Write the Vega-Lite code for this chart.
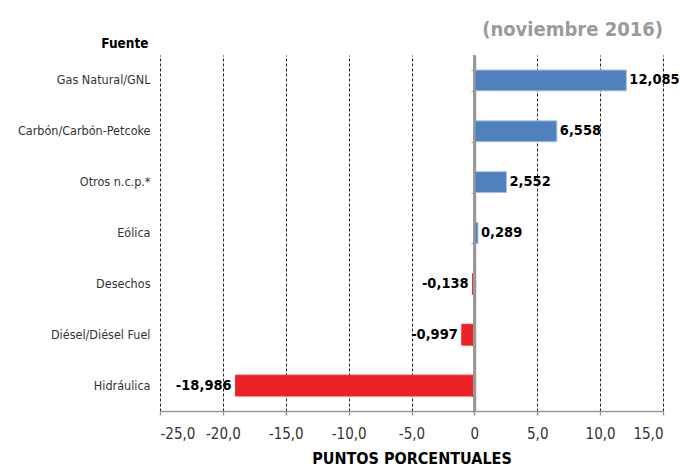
{
  "$schema": "https://vega.github.io/schema/vega-lite/v6.json",
  "width": 503,
  "height": 356,
  "autosize": "none",
  "padding": {"left": 160, "top": 55, "right": 17, "bottom": 61},
  "config": {
    "locale": {"number": {"decimal": ",", "thousands": ".", "grouping": [3], "currency": ["", ""], "minus": "-"}},
    "font": "DejaVu Sans Condensed",
    "view": {"stroke": null}
  },
  "title": {"text": "(noviembre 2016)", "anchor": "end", "frame": "group", "offset": -4, "fontSize": 20, "fontWeight": "bold", "color": "#9A9A9A"},
  "data": {
    "values": [
      {"fuente": "Gas Natural/GNL", "valor": 12.085},
      {"fuente": "Carbón/Carbón-Petcoke", "valor": 6.558},
      {"fuente": "Otros n.c.p.*", "valor": 2.552},
      {"fuente": "Eólica", "valor": 0.289},
      {"fuente": "Desechos", "valor": -0.138},
      {"fuente": "Diésel/Diésel Fuel", "valor": -0.997},
      {"fuente": "Hidráulica", "valor": -18.986}
    ]
  },
  "encoding": {
    "x": {
      "field": "valor",
      "type": "quantitative",
      "scale": {"domain": [-25, 15], "nice": false},
      "axis": {
        "values": [-25, -20, -15, -10, -5, 0, 5, 10, 15],
        "format": ".1f",
        "labelExpr": "datum.value == 0 ? '0' : datum.label",
        "grid": true,
        "gridDash": [3, 2],
        "gridColor": "#222",
        "gridOpacity": 1,
        "domainColor": "#999",
        "domainWidth": 1.5,
        "tickColor": "#999",
        "tickSize": 4,
        "tickWidth": 1.5,
        "labelFontSize": 15,
        "labelColor": "#333",
        "labelPadding": 11,
        "title": "PUNTOS PORCENTUALES",
        "titleFontSize": 16,
        "titleFontWeight": "bold",
        "titleColor": "#000",
        "titlePadding": 9
      }
    },
    "y": {
      "field": "fuente",
      "type": "nominal",
      "sort": null,
      "scale": {"paddingInner": 0.59, "paddingOuter": 0.295}
    }
  },
  "layer": [
    {
      "mark": {"type": "bar", "strokeWidth": 1},
      "encoding": {
        "y": {
          "field": "fuente",
          "type": "nominal",
          "sort": null,
          "axis": {
            "title": "Fuente",
            "titleAngle": 0,
            "titleAlign": "right",
            "titleBaseline": "alphabetic",
            "titleX": -12,
            "titleY": -8,
            "titleFontSize": 13.5,
            "titleFontWeight": "bold",
            "titleColor": "#000",
            "domain": false,
            "ticks": false,
            "labelPadding": 10,
            "labelFontSize": 12.5,
            "labelColor": "#333"
          }
        },
        "color": {"condition": {"test": "datum.valor > 0", "value": "#4F81BD"}, "value": "#EC2227"},
        "stroke": {"condition": {"test": "datum.valor > 0", "value": "#A7C0E0"}, "value": "#EC2227"}
      }
    },
    {
      "mark": {"type": "rule", "color": "#999", "strokeWidth": 1.5},
      "encoding": {"x": {"datum": 0}, "y": null}
    },
    {
      "transform": [{"filter": "datum.valor > 0"}],
      "mark": {"type": "text", "align": "left", "baseline": "middle", "dx": 3, "fontSize": 14.5, "fontWeight": "bold", "color": "#000"},
      "encoding": {
        "y": {
          "field": "fuente",
          "type": "nominal",
          "sort": null,
          "axis": {
            "orient": "left",
            "offset": -315,
            "labels": false,
            "title": null,
            "domain": true,
            "domainColor": "#999",
            "domainWidth": 1.5,
            "ticks": true,
            "tickBand": "extent",
            "tickColor": "#999",
            "tickSize": 4
          }
        },
        "text": {"field": "valor", "type": "quantitative", "format": ".3f"}
      }
    },
    {
      "transform": [{"filter": "datum.valor < 0"}],
      "mark": {"type": "text", "align": "right", "baseline": "middle", "dx": -4, "fontSize": 14.5, "fontWeight": "bold", "color": "#000"},
      "encoding": {
        "y": {"field": "fuente", "type": "nominal", "sort": null, "axis": null},
        "text": {"field": "valor", "type": "quantitative", "format": ".3f"}
      }
    }
  ],
  "resolve": {"axis": {"y": "independent"}}
}
